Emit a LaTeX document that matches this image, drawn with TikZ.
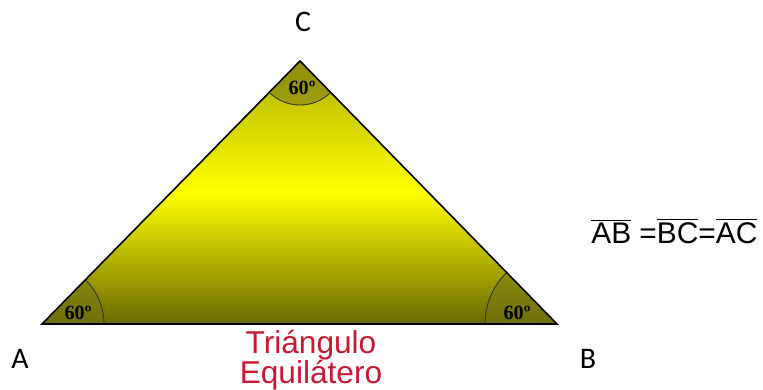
\documentclass[tikz,border=0pt]{standalone}
\usepackage{fontspec}
\setmainfont{Liberation Sans}
\newfontfamily\vertexfont{Carlito}
\newfontfamily\anglefont{Liberation Serif}
\usepackage{tikz}
\usetikzlibrary{positioning}
\definecolor{olivetop}{RGB}{175, 175, 0}
\definecolor{olivebottom}{RGB}{105, 105, 0}
\definecolor{wedgecol}{RGB}{115, 115, 25}
\definecolor{titlered}{RGB}{200, 25, 50}

\tikzset{
	vertexlabel/.style={font=\vertexfont\fontsize{17}{17}\selectfont, inner sep=0pt},
	anglelabel/.style={font=\anglefont\bfseries\fontsize{11.5}{11.5}\selectfont, inner sep=0pt},
	anglearc/.style={draw=black!80, line width=0.5pt}
}

\begin{document}
\begin{tikzpicture}[x=0.02cm, y=-0.02cm]
	\useasboundingbox (0,0) rectangle (763,389);
	\coordinate (A) at (42,324);
	\coordinate (B) at (557,324);
	\coordinate (C) at (300,61);
	\shade[top color=olivetop, bottom color=olivebottom, middle color=yellow] (A) -- (B) -- (C) -- cycle;
	\begin{scope}
		\clip (A) -- (B) -- (C) -- cycle;
		\fill[wedgecol, fill opacity=0.5] (A) circle (62) (B) circle (72) (C) circle (44);
		\draw[anglearc] (A) circle (62) (B) circle (72) (C) circle (44);
	\end{scope}
	\draw[line width=0.9pt, line join=miter] (A) -- (B) -- (C) -- cycle;
	\draw[line width=1.6pt] (A) -- (B);
	\node[vertexlabel] (labelC) at (303,22) {C};
	\node[vertexlabel] (labelA) at (20,359) {A};
	\node[vertexlabel] (labelB) at (588,359) {B};
	\node[anglelabel] (angleC) at (302,88) {60º};
	\node[anglelabel] (angleA) at (78,313) {60º};
	\node[anglelabel] (angleB) at (517,313) {60º};
	\node[
	text=titlered,
	font=\fontsize{18}{17}\selectfont,
	align=center,
	inner sep=0pt,
	anchor=north
	] (title) at (311,330) {Triángulo\\Equilátero};
	\node[
	font=\fontsize{17}{17}\selectfont,
	inner sep=0pt,
	anchor=west
	] (equal) at (591,231) {$\overline{\mbox{AB}}$ =$\overline{\mbox{BC}}$=$\overline{\mbox{AC}}$};
\end{tikzpicture}
\end{document}
